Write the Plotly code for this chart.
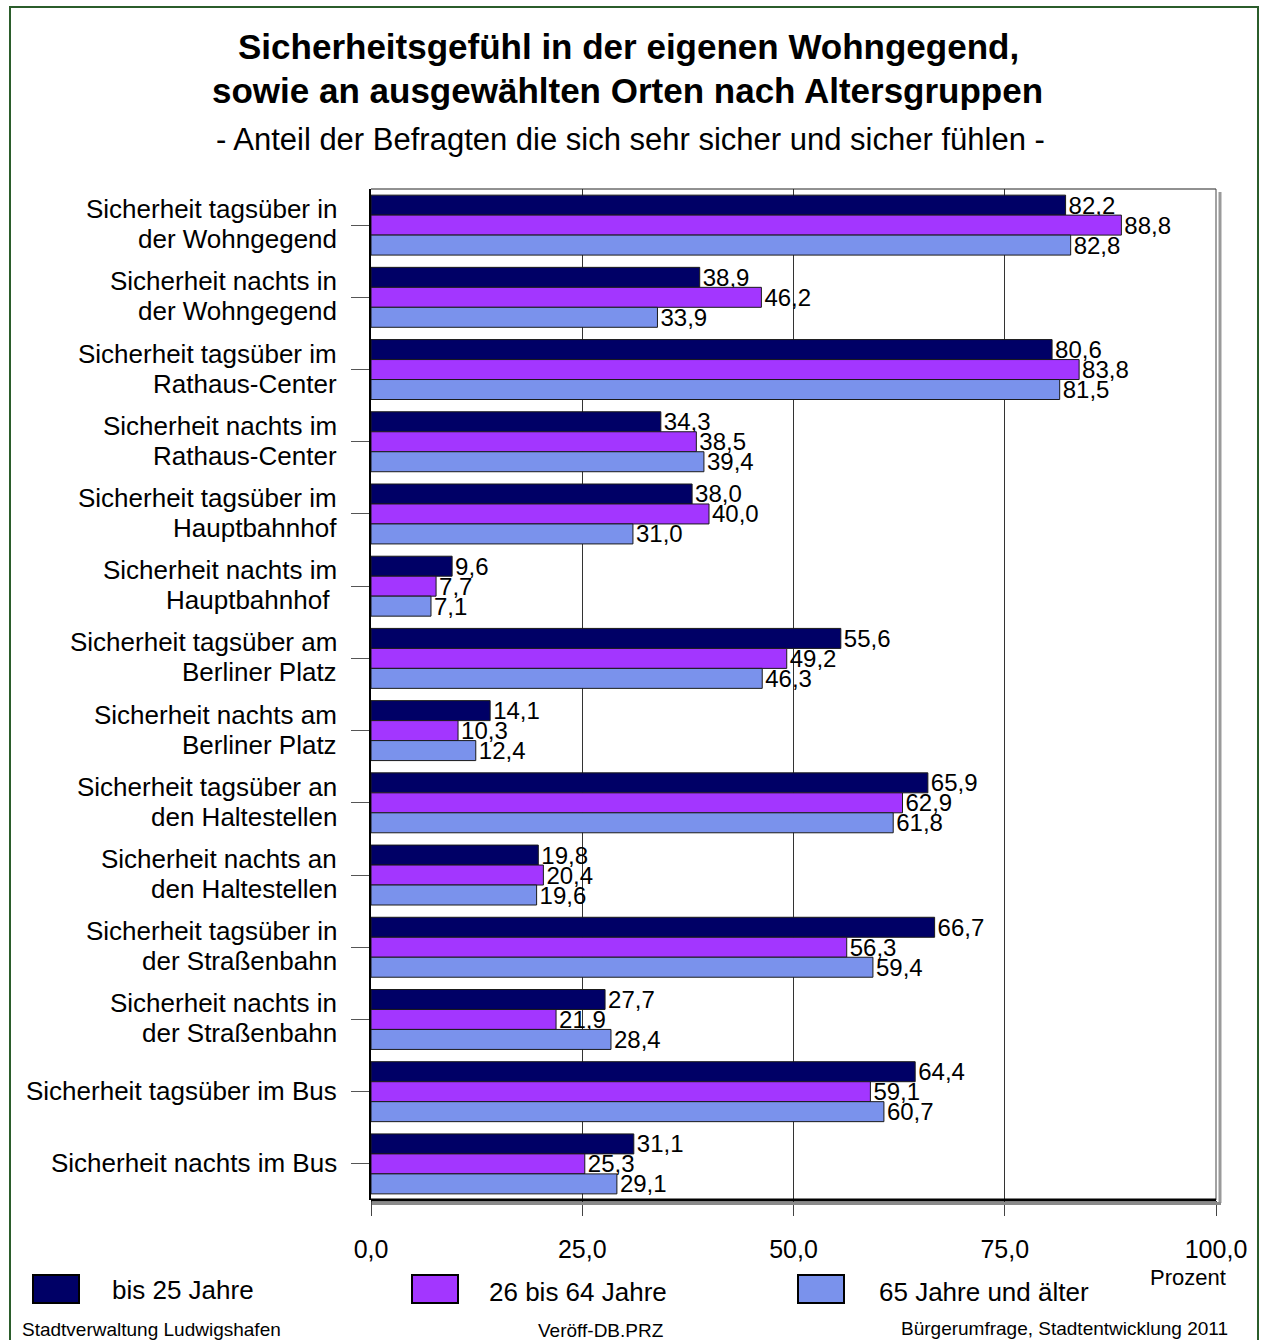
import plotly.graph_objects as go

# ---- data -------------------------------------------------------------
label_line1 = [
    "Sicherheit tagsüber in", "Sicherheit nachts in",
    "Sicherheit tagsüber im", "Sicherheit nachts im",
    "Sicherheit tagsüber im", "Sicherheit nachts im",
    "Sicherheit tagsüber am", "Sicherheit nachts am",
    "Sicherheit tagsüber an", "Sicherheit nachts an",
    "Sicherheit tagsüber in", "Sicherheit nachts in",
    "Sicherheit tagsüber im Bus", "Sicherheit nachts im Bus",
]
label_line2 = [
    "der Wohngegend", "der Wohngegend",
    "Rathaus-Center", "Rathaus-Center",
    "Hauptbahnhof", "Hauptbahnhof\u00a0",
    "Berliner Platz", "Berliner Platz",
    "den Haltestellen", "den Haltestellen",
    "der Straßenbahn", "der Straßenbahn",
    "", "",
]
categories = [(a + " " + b).strip() for a, b in zip(label_line1, label_line2)]

series_names = ["bis 25 Jahre", "26 bis 64 Jahre", "65 Jahre und älter"]
bis_25 = [82.2, 38.9, 80.6, 34.3, 38.0, 9.6, 55.6, 14.1, 65.9, 19.8, 66.7, 27.7, 64.4, 31.1]
von_26_bis_64 = [88.8, 46.2, 83.8, 38.5, 40.0, 7.7, 49.2, 10.3, 62.9, 20.4, 56.3, 21.9, 59.1, 25.3]
ab_65 = [82.8, 33.9, 81.5, 39.4, 31.0, 7.1, 46.3, 12.4, 61.8, 19.6, 59.4, 28.4, 60.7, 29.1]
series_values = [bis_25, von_26_bis_64, ab_65]
series_colors = ["#000066", "#A336FF", "#7A92EC"]

x_ticks = [0, 25, 50, 75, 100]

# ---- page geometry ----------------------------------------------------
W, H = 1266, 1340
ML, MR, MT, MB = 371, 50, 189, 140
PW, PH = W - ML - MR, H - MT - MB
FONT = "Liberation Sans, Arial, Helvetica, sans-serif"


def px_x(px):
    return (px - ML) / PW


def px_y(py):
    return (H - MB - py) / PH


def page_text(x, y, text, size, xanchor="center", bold=False):
    return dict(x=px_x(x), y=px_y(y), xref="paper", yref="paper",
                xanchor=xanchor, yanchor="middle", showarrow=False,
                text=f"<b>{text}</b>" if bold else text,
                font=dict(family=FONT, size=size, color="black"))


fig = go.Figure()
for name, vals, col in zip(series_names, series_values, series_colors):
    fig.add_trace(go.Bar(
        y=categories, x=vals, name=name, orientation="h",
        marker=dict(color=col, line=dict(color="#1a1a1a", width=1)),
        texttemplate="%{x:.1f}", textposition="outside",
        constraintext="none", cliponaxis=False,
        textfont=dict(family=FONT, size=24, color="black"),
        showlegend=False,
    ))

shapes = []
annotations = []

# outer frame of the page
shapes.append(dict(type="rect", xref="paper", yref="paper",
                   x0=px_x(10), x1=px_x(1258), y0=px_y(1400), y1=px_y(7),
                   line=dict(color="#2B5D2B", width=2), fillcolor="rgba(0,0,0,0)"))

# plot frame with shadow at right and bottom
shapes += [
    dict(type="line", xref="paper", yref="paper", x0=0, x1=1, y0=1, y1=1,
         line=dict(color="#222", width=1)),
    dict(type="line", xref="paper", yref="paper", x0=px_x(1220), x1=px_x(1220),
         y0=px_y(1203), y1=px_y(192), line=dict(color="#9a9a9a", width=3)),
    dict(type="line", xref="paper", yref="paper", x0=1, x1=1, y0=0, y1=1,
         line=dict(color="#444", width=1)),
    dict(type="line", xref="paper", yref="paper", x0=px_x(372), x1=px_x(1221),
         y0=px_y(1203.5), y1=px_y(1203.5), line=dict(color="#8a8a8a", width=3)),
    dict(type="line", xref="paper", yref="paper", x0=0, x1=1, y0=0, y1=0,
         line=dict(color="black", width=3)),
]

# category labels, one annotation per line
for cat, l1, l2 in zip(categories, label_line1, label_line2):
    lines = [(l1, 16), (l2, -14)] if l2 else [(l1, 1)]
    for txt, shift in lines:
        annotations.append(dict(
            x=0, xref="paper", y=cat, yref="y", text=txt, showarrow=False,
            xanchor="right", yanchor="middle", xshift=-32, yshift=shift,
            font=dict(family=FONT, size=26, color="black")))

# titles
annotations += [
    page_text(628, 47, "Sicherheitsgefühl in der eigenen Wohngegend,", 35, bold=True),
    page_text(627, 90, "sowie an ausgewählten Orten nach Altersgruppen", 35, bold=True),
    page_text(630, 140, "- Anteil der Befragten die sich sehr sicher und sicher fühlen -", 31),
    page_text(1228, 1277, "Prozent", 22, xanchor="right"),
]

# legend
legend_boxes = [(33, 110, 1290), (412, 487, 1292), (798, 877, 1292)]
for (bx, tx, ty), name, col in zip(legend_boxes, series_names, series_colors):
    shapes.append(dict(type="rect", xref="paper", yref="paper",
                       x0=px_x(bx), x1=px_x(bx + 46), y0=px_y(1303), y1=px_y(1275),
                       fillcolor=col, line=dict(color="black", width=2)))
    annotations.append(page_text(tx, ty, name, 26, xanchor="left"))

# footer
annotations += [
    page_text(20, 1329, "Stadtverwaltung Ludwigshafen", 19, xanchor="left"),
    page_text(601, 1330, "Veröff-DB.PRZ", 19),
    page_text(1230, 1328, "Bürgerumfrage, Stadtentwicklung 2011", 19, xanchor="right"),
]

fig.update_layout(
    width=W, height=H,
    margin=dict(l=ML, r=MR, t=MT, b=MB, autoexpand=False),
    paper_bgcolor="white", plot_bgcolor="white",
    barmode="group", bargap=0.17, bargroupgap=0,
    separators=",.",
    font=dict(family=FONT, color="black"),
    shapes=shapes, annotations=annotations,
    xaxis=dict(range=[0, 100], tickvals=x_ticks, tickformat=".1f",
               ticks="outside", ticklen=15, tickcolor="#444", tickwidth=1,
               showgrid=True, gridcolor="#333", gridwidth=1,
               zeroline=False, showline=False,
               tickfont=dict(family=FONT, size=25, color="black"),
               ticklabelstandoff=12),
    yaxis=dict(type="category", autorange="reversed", categoryorder="array",
               categoryarray=categories, showticklabels=False,
               ticks="outside", ticklen=18, tickcolor="#555", tickwidth=1,
               showgrid=False, zeroline=False,
               showline=True, linecolor="black", linewidth=2),
)

fig.write_html("out.html")
